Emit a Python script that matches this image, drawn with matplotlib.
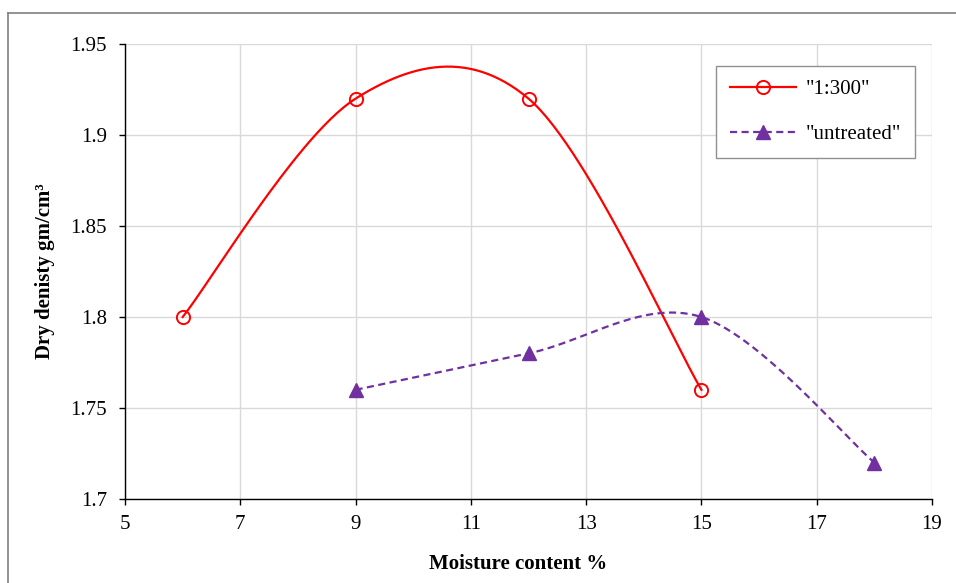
import numpy as np
import matplotlib
matplotlib.use('Agg')
import matplotlib.pyplot as plt
from matplotlib.lines import Line2D

plt.rcParams['font.family'] = ['Liberation Serif', 'DejaVu Serif']

# moisture content (%) vs dry density (gm/cm3)
moisture_treated = [6, 9, 12, 15]
density_treated = [1.80, 1.92, 1.92, 1.76]
moisture_untreated = [9, 12, 15, 18]
density_untreated = [1.76, 1.78, 1.80, 1.72]

x_ticks = [5, 7, 9, 11, 13, 15, 17, 19]
y_ticks = [1.7, 1.75, 1.8, 1.85, 1.9, 1.95]
y_tick_labels = ['1.7', '1.75', '1.8', '1.85', '1.9', '1.95']


# spreadsheet-style smoothed line: cubic bezier between points,
# control points taken from neighbouring points / 6
def smooth_curve(xs, ys, n=60):
    p = np.column_stack([xs, ys]).astype(float)
    out = []
    for i in range(len(p) - 1):
        prev = p[i - 1] if i > 0 else p[i]
        nxt = p[i + 2] if i + 2 < len(p) else p[i + 1]
        c1 = p[i] + (p[i + 1] - prev) / 6
        c2 = p[i + 1] - (nxt - p[i]) / 6
        t = np.linspace(0, 1, n)[:, None]
        seg = ((1 - t) ** 3 * p[i] + 3 * t * (1 - t) ** 2 * c1
               + 3 * t ** 2 * (1 - t) * c2 + t ** 3 * p[i + 1])
        out.append(seg if i == 0 else seg[1:])
    out = np.vstack(out)
    return out[:, 0], out[:, 1]


fig = plt.figure(figsize=(9.56, 5.83), dpi=100)
ax = fig.add_axes([0.1308, 0.1441, 0.8441, 0.7804])

red = '#FF0000'
purple = '#7030A0'
dash = (0, (3.2, 2))

sx, sy = smooth_curve(moisture_treated, density_treated)
ax.plot(sx, sy, color=red, lw=1.6, zorder=3)
ax.plot(moisture_treated, density_treated, 'o', mfc='none',
        mec=red, ms=9.5, mew=1.4, zorder=4)

ux, uy = smooth_curve(moisture_untreated, density_untreated)
ax.plot(ux, uy, color=purple, lw=1.6, ls=dash, zorder=3)
ax.plot(moisture_untreated, density_untreated, '^', color=purple, ms=10.5,
        zorder=4)

ax.set_xlim(5, 19)
ax.set_ylim(1.7, 1.95)
ax.set_xticks(x_ticks)
ax.set_yticks(y_ticks)
ax.set_yticklabels(y_tick_labels)
ax.tick_params(direction='out', length=4.5, width=1, labelsize=15,
               colors='black')
ax.tick_params(axis='y', pad=8.5)
ax.tick_params(axis='x', pad=7)
ax.grid(True, color='#d9d9d9', lw=1)
ax.set_axisbelow(True)
for side in ['top', 'right']:
    ax.spines[side].set_visible(False)
for side in ['left', 'bottom']:
    ax.spines[side].set_linewidth(1)

ax.set_xlabel('Moisture content %', fontsize=15, fontweight='bold')
ax.xaxis.set_label_coords(0.487, -0.122)
ax.set_ylabel('Dry denisty gm/cm³', fontsize=15, fontweight='bold')
ax.yaxis.set_label_coords(-0.087, 0.5)

handles = [
    Line2D([], [], color=red, lw=1.6, marker='o', mfc='none', mec=red,
           ms=9.5, mew=1.4),
    Line2D([], [], color=purple, lw=1.6, ls=dash, marker='^', ms=10.5),
]
leg = ax.legend(handles, ['"1:300"', '"untreated"'], loc='upper left',
                bbox_to_anchor=(0.7196, 0.974), fontsize=15, fancybox=False,
                framealpha=1, edgecolor='#909090', handlelength=3.2,
                labelspacing=1.2, borderpad=0.65, handletextpad=0.45)
leg.get_frame().set_linewidth(1)

# outer chart frame
fig.add_artist(Line2D([8 / 956, 8 / 956], [0, 1 - 13 / 583],
                      transform=fig.transFigure, color='#808080', lw=1.2))
fig.add_artist(Line2D([8 / 956, 1], [1 - 13 / 583, 1 - 13 / 583],
                      transform=fig.transFigure, color='#808080', lw=1.2))

fig.savefig('out.png', dpi=100)
